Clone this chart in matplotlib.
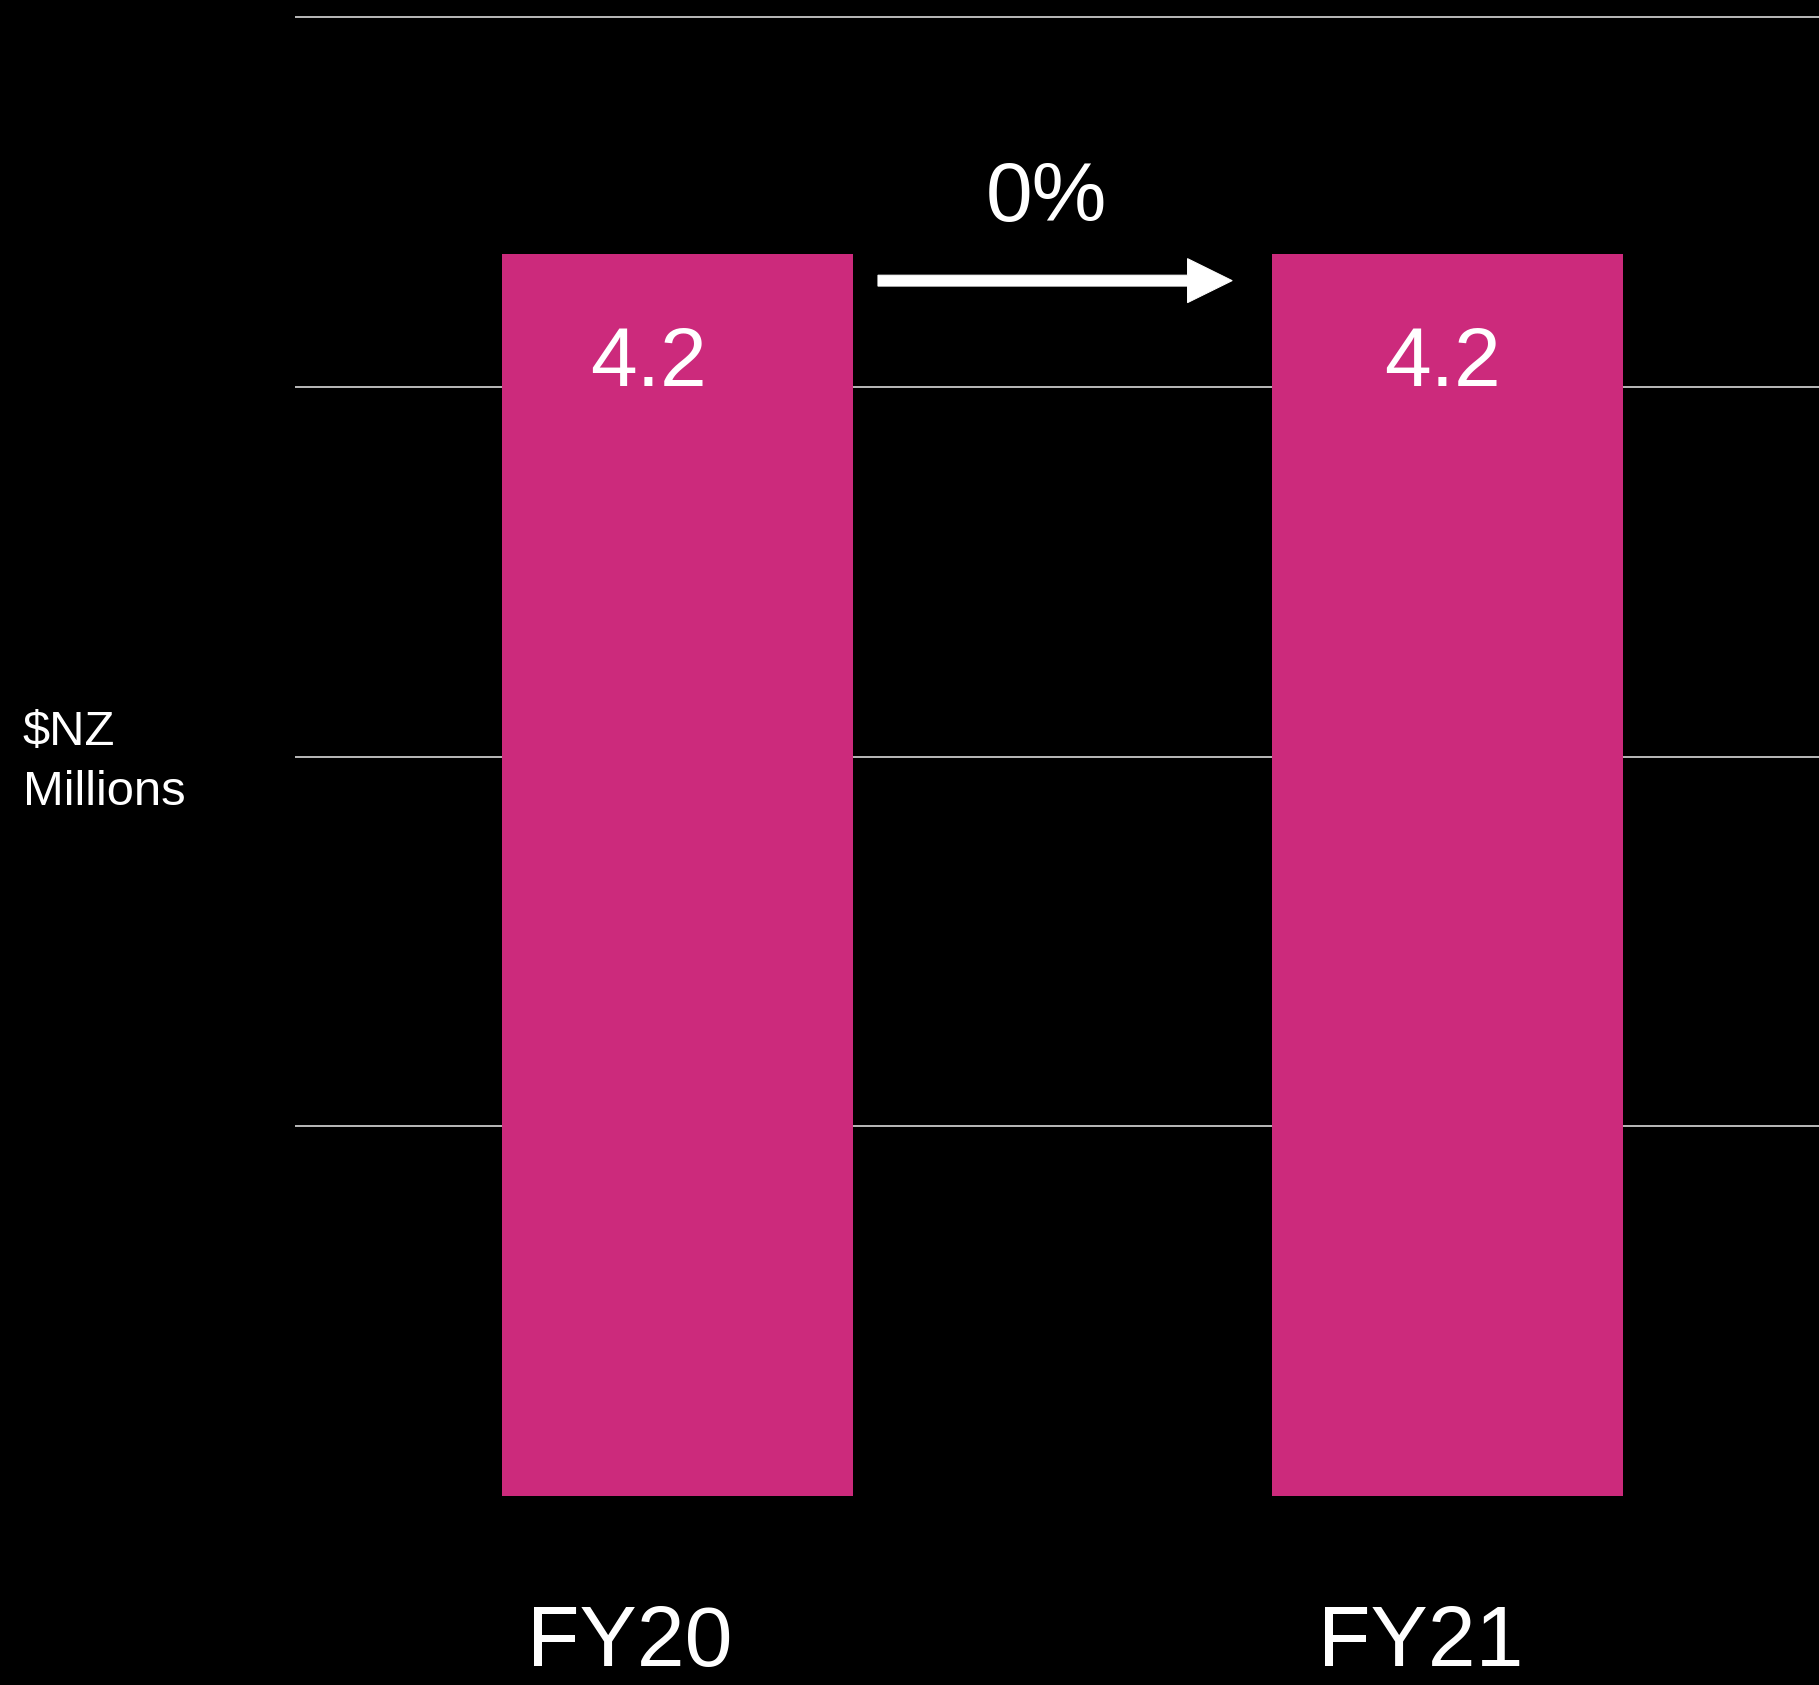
import matplotlib.pyplot as plt

# revenue, $NZ millions
years = ['FY20', 'FY21']
values = [4.2, 4.2]
change_label = '0%'
grid_levels = [1.25, 2.5, 3.75, 5.0]

# small horizontal nudges for the text under / inside each bar
value_dx = [-0.038, -0.007]
year_dx = [-0.062, -0.035]

pink = '#cc2a7c'
plt.rcParams['font.family'] = ['Liberation Sans', 'DejaVu Sans']

W, H, DPI = 1819, 1685, 72
fig = plt.figure(figsize=(W / DPI, H / DPI), dpi=DPI, facecolor='black')
ax = fig.add_axes([295 / W, 0, 1 - 295 / W, 1])
ax.set_facecolor('black')

x = list(range(len(years)))
ax.bar(x, values, width=0.456, color=pink, zorder=2)

for g in grid_levels:
    ax.axhline(g, color='#b4b4b4', lw=2, zorder=1)

ax.set_xlim(-0.497, 1.482)
ax.set_ylim(-0.639, 5.059)
ax.axis('off')

# value labels inside the bars
for i, v in zip(x, values):
    ax.text(i + value_dx[i], v - 0.445, f'{v:.1f}', color='white', fontsize=84,
            ha='center', va='baseline', zorder=3)

# category labels under the bars, kept just inside the bottom edge
for i, name in zip(x, years):
    ax.text(i + year_dx[i], -0.636, name, color='white', fontsize=86,
            ha='center', va='bottom')

# change arrow between the bars
ax.arrow(0.26, 4.11, 0.46, 0, width=0.037, head_width=0.149,
         head_length=0.058, length_includes_head=True, color='white', zorder=3)
ax.text(0.479, 4.31, change_label, color='white', fontsize=84,
        ha='center', va='baseline')

fig.text(23 / W, 1 - 745 / H, '$NZ', color='white', fontsize=49, va='baseline')
fig.text(23 / W, 1 - 805 / H, 'Millions', color='white', fontsize=49, va='baseline')

fig.savefig('out.png', dpi=DPI, facecolor='black')
